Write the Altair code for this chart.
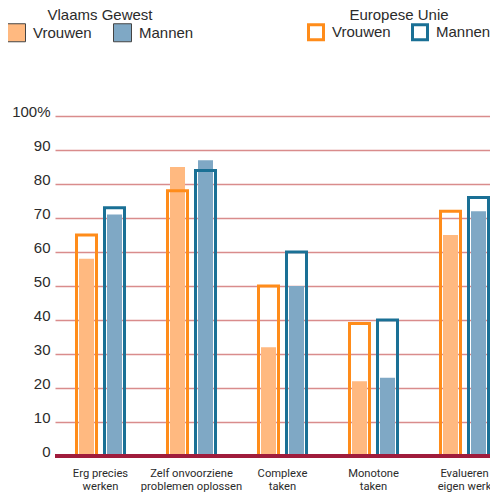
import altair as alt
import pandas as pd

categories = ["Erg precies|werken", "Zelf onvoorziene|problemen oplossen",
              "Complexe|taken", "Monotone|taken", "Evalueren|eigen werk"]
sexes = ["Vrouwen", "Mannen"]
vg_vrouwen = [58, 85, 32, 22, 65]
vg_mannen = [71, 87, 50, 23, 72]
eu_vrouwen = [65, 78, 50, 39, 72]
eu_mannen = [73, 84, 60, 40, 76]
y_ticks = [0, 10, 20, 30, 40, 50, 60, 70, 80, 90, 100]

rows = []
for i, c in enumerate(categories):
    rows.append({"cat": c, "sex": "Vrouwen", "vg": vg_vrouwen[i], "eu": eu_vrouwen[i]})
    rows.append({"cat": c, "sex": "Mannen", "vg": vg_mannen[i], "eu": eu_mannen[i]})
df = pd.DataFrame(rows)

FONT = "Liberation Sans, Arial, Helvetica, sans-serif"
NARROW = "Roboto, Liberation Sans, Arial, sans-serif"
TXT = "#2b2b2b"

y_axis = alt.Axis(title=None, values=y_ticks, tickCount=11, domain=False, ticks=False,
                  labelExpr="datum.value == 100 ? '100%' : datum.label",
                  labelFont=FONT, labelFontSize=15, labelColor=TXT, labelOverlap=False,
                  labelPadding=5, labelBaseline="alphabetic",
                  grid=True, gridColor="#d98c8c", gridWidth=1.5)
y_scale = alt.Scale(domain=[0, 100], nice=False)

x_enc = alt.X("cat:N", sort=categories,
              scale=alt.Scale(paddingInner=0, paddingOuter=0),
              axis=alt.Axis(title=None, labelAngle=0, domain=False, ticks=False,
                            labelExpr="split(datum.label, '|')", labelFont=NARROW,
                            labelFontSize=11.2, labelLineHeight=13, labelColor=TXT,
                            labelPadding=11, labelBaseline="top"))
xoff = alt.XOffset("sex:N", sort=sexes,
                   scale=alt.Scale(paddingInner=0, paddingOuter=0.625))

vg = alt.Chart(df).mark_bar(width=15).encode(
    x=x_enc, xOffset=xoff,
    y=alt.Y("vg:Q", scale=y_scale, axis=y_axis),
    fill=alt.Fill("sex:N", sort=sexes,
                  scale=alt.Scale(domain=sexes, range=["#ffb980", "#7fa8c5"]),
                  legend=alt.Legend(title="Vlaams Gewest", orient="none",
                                    legendX=-48, legendY=-108, direction="horizontal",
                                    titleAnchor="middle", titleFont=FONT, titleFontSize=15,
                                    titleFontWeight="normal", titleColor=TXT, titlePadding=0,
                                    labelFont=FONT, labelFontSize=15, labelColor=TXT,
                                    symbolType="square", symbolSize=324,
                                    symbolStrokeColor="#444", symbolStrokeWidth=1,
                                    labelOffset=7, columnPadding=19)),
)

eu = alt.Chart(df).mark_bar(width=20, filled=False, strokeWidth=3).encode(
    x=alt.X("cat:N", sort=categories), xOffset=alt.XOffset("sex:N", sort=sexes),
    y=alt.Y("eu:Q", scale=y_scale, axis=y_axis),
    stroke=alt.Stroke("sex:N", sort=sexes,
                      scale=alt.Scale(domain=sexes, range=["#ff8c1a", "#1a7095"]),
                      legend=alt.Legend(title="Europese Unie", orient="none",
                                        legendX=252, legendY=-108, direction="horizontal",
                                        titleAnchor="middle", titleFont=FONT, titleFontSize=15,
                                        titleFontWeight="normal", titleColor=TXT, titlePadding=0,
                                        labelFont=FONT, labelFontSize=15, labelColor=TXT,
                                        symbolType="square", symbolSize=225,
                                        symbolFillColor="white", symbolStrokeWidth=3,
                                        labelOffset=7, columnPadding=15)),
)

base = alt.Chart(df).mark_rule(color="#a01c3c", strokeWidth=3).encode(
    y=alt.datum(0, type="quantitative"))

chart = alt.layer(vg, eu, base).resolve_scale(fill="independent", stroke="independent").properties(
    width=455, height=340,
    autosize=alt.AutoSizeParams(type="none"),
    padding={"left": 47, "top": 108, "right": -20, "bottom": 36},
).configure_view(stroke=None)

chart.save("out.html", embed_options={"renderer": "svg", "actions": False})
